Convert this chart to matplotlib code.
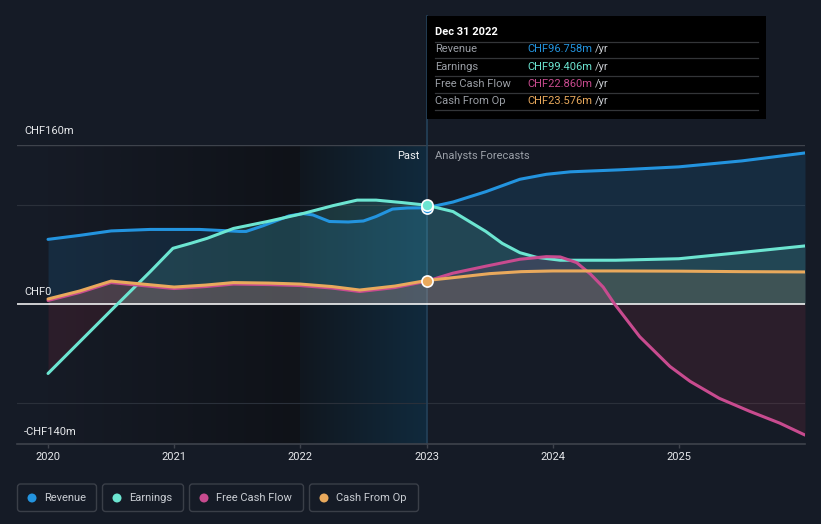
import numpy as np
import matplotlib
matplotlib.use('Agg')
import matplotlib.pyplot as plt
from matplotlib.patches import FancyBboxPatch, Rectangle, Circle
from matplotlib.lines import Line2D

plt.rcParams['font.family'] = ['Roboto', 'DejaVu Sans']

# ---------------- data (CHF m) ----------------
rev_x = [2020.0, 2020.25, 2020.5, 2020.81, 2021.2, 2021.52, 2021.57, 2021.7, 2021.91, 2022.02,
         2022.1, 2022.23, 2022.38, 2022.5, 2022.6, 2022.73, 2022.85, 2023.0,
         2023.21, 2023.47, 2023.74, 2023.95, 2024.14, 2024.53, 2025.0, 2025.5, 2026.0]
rev_y = [65, 69, 73.5, 75, 75, 73, 73, 78.5, 88.6, 91,
         89.6, 83, 82.5, 83.5, 88, 95.5, 96.6, 96.758,
         102.6, 113, 125.5, 130.5, 133, 135, 138, 144, 152]

earn_x = [2020.0, 2020.5, 2020.81, 2020.99, 2021.13, 2021.26, 2021.47, 2021.74, 2022.02, 2022.26,
          2022.45, 2022.6, 2022.81, 2023.0, 2023.21, 2023.34, 2023.47, 2023.6, 2023.74, 2023.87,
          2024.06, 2024.5, 2025.0, 2025.48, 2026.0]
earn_y = [-70, -6.5, 32.5, 56, 61, 66, 76, 83, 91, 99,
          104.5, 104.5, 102, 99.406, 93, 83, 73, 61, 51.6, 47,
          44, 44, 45.5, 51.6, 58.4]

cfo_x = [2020.0, 2020.25, 2020.5, 2020.75, 2021.0, 2021.25, 2021.47, 2021.75, 2022.0, 2022.25,
         2022.47, 2022.75, 2023.0, 2023.25, 2023.5, 2023.75, 2024.0, 2024.5, 2025.0, 2025.5, 2026.0]
cfo_y = [5, 13, 23, 20, 17, 19, 21.5, 21, 20, 17.5,
         14, 18, 23.576, 27, 30.5, 32.5, 33.2, 33.2, 33, 32.5, 32.2]

fcf_x = [2020.0, 2020.25, 2020.5, 2020.75, 2021.0, 2021.25, 2021.47, 2021.75, 2022.0, 2022.25,
         2022.47, 2022.75, 2023.0, 2023.21, 2023.47, 2023.74, 2023.95, 2024.06, 2024.19, 2024.3,
         2024.4, 2024.49, 2024.69, 2024.93, 2025.09, 2025.32, 2025.56, 2025.8, 2026.0]
fcf_y = [3.5, 11.5, 21.5, 18.5, 15.5, 17.5, 20, 19.5, 18.5, 16,
         12.5, 16.5, 22.860, 31, 38, 45, 47.6, 47.3, 41.6, 30,
         17, 0, -33, -63, -78, -95, -108, -120, -132]

years = [2020, 2021, 2022, 2023, 2024, 2025]
year_labels = ['2020', '2021', '2022', '2023', '2024', '2025']
ytick_labels = ['CHF160m', 'CHF0', '-CHF140m']

series_names = ['Revenue', 'Earnings', 'Free Cash Flow', 'Cash From Op']
series_values = ['CHF96.758m', 'CHF99.406m', 'CHF22.860m', 'CHF23.576m']
tooltip_date = 'Dec 31 2022'

# ---------------- style ----------------
W, H = 821, 524
BG = '#151b26'
C_REV = '#2394df'
C_EARN = '#6ce5d1'
C_FCF = '#c84b8f'
C_CFO = '#e9a95c'
C_NEG = '#c2344e'
colors = [C_REV, C_EARN, C_FCF, C_CFO]

fig = plt.figure(figsize=(W / 100, H / 100), dpi=100, facecolor=BG)


def fx(px):
    return px / W


def fy(py):
    return 1 - py / H


def P(px, py):
    return (px / 100.0, (H - py) / 100.0)


ax = fig.add_axes([fx(17), fy(444), fx(805) - fx(17), fy(145) - fy(444)])
ax.set_facecolor(BG)
XMIN, XMAX = 2019.754, 2026.0
YMIN, YMAX = -141, 160

# background gradients for past region
n = 256
g1 = np.zeros((2, n, 4))
c_a = np.array([22, 27, 38]) / 255.0
c_b = np.array([15, 18, 24]) / 255.0
for i in range(n):
    t = i / (n - 1)
    g1[:, i, :3] = c_a * (1 - t) + c_b * t
g1[:, :, 3] = 1
ax.imshow(g1, extent=[2020, 2022, YMIN, YMAX], aspect='auto', zorder=0.2, interpolation='bilinear')
g2 = np.zeros((2, n, 4))
c_c = np.array([16, 23, 31]) / 255.0
c_d = np.array([17, 42, 61]) / 255.0
for i in range(n):
    t = i / (n - 1)
    g2[:, i, :3] = c_c * (1 - t) + c_d * t
g2[:, :, 3] = 1
ax.imshow(g2, extent=[2022, 2023, YMIN, YMAX], aspect='auto', zorder=0.2, interpolation='bilinear')

# grid lines
ax.axhline(160, color='#3e434c', lw=1, zorder=1)
ax.axhline(100, color='#2a303a', lw=0.8, zorder=1)
ax.axhline(-100, color='#2a303a', lw=0.8, zorder=1)

# hover line
ax.axvline(2023, ymin=0, ymax=(444 - 16) / (444 - 145), color='#24425a', lw=1.2,
           clip_on=False, zorder=1.5)

# fills
data = [(rev_x, rev_y, C_REV), (earn_x, earn_y, C_EARN), (fcf_x, fcf_y, C_FCF), (cfo_x, cfo_y, C_CFO)]
for xs, ys, c in data:
    xs = np.array(xs)
    ys = np.array(ys, dtype=float)
    ax.fill_between(xs, ys, 0, where=ys >= 0, interpolate=True, color=c, alpha=0.14, lw=0, zorder=2)
    ax.fill_between(xs, ys, 0, where=ys <= 0, interpolate=True, color=C_NEG, alpha=0.13, lw=0, zorder=2)

ax.axhline(0, color='#ffffff', lw=1.1, zorder=2.5)

# lines
kw = dict(lw=2.2, solid_capstyle='round', solid_joinstyle='round')
ax.plot(rev_x, rev_y, color=C_REV, zorder=3, **kw)
ax.plot(earn_x, earn_y, color=C_EARN, zorder=4, **kw)
ax.plot(fcf_x, fcf_y, color=C_FCF, zorder=5, **kw)
ax.plot(cfo_x, cfo_y, color=C_CFO, zorder=6, **kw)

# markers at 2023
i_r = rev_x.index(2023.0)
i_e = earn_x.index(2023.0)
i_c = cfo_x.index(2023.0)
ax.plot(2023.0, rev_y[i_r], 'o', ms=8, mfc=C_REV, mec='white', mew=1.2, zorder=7)
ax.plot(2023.0, earn_y[i_e], 'o', ms=8, mfc=C_EARN, mec='white', mew=1.2, zorder=7.5)
ax.plot(2023.0, cfo_y[i_c], 'o', ms=8, mfc=C_CFO, mec='white', mew=1.2, zorder=7.5)

ax.set_xlim(XMIN, XMAX)
ax.set_ylim(YMIN, YMAX)

for s in ['top', 'left', 'right']:
    ax.spines[s].set_visible(False)
ax.spines['bottom'].set_color('#3e434c')
ax.spines['bottom'].set_linewidth(1.2)
ax.set_yticks([])
ax.set_xticks(years)
ax.set_xticklabels(year_labels)
ax.tick_params(axis='x', colors='#3e434c', length=3, width=1, labelcolor='#e6e8eb',
               labelsize=8, pad=2.5)

# y labels
ylab_pos = [131, 292, 432]
for lbl, py in zip(ytick_labels, ylab_pos):
    fig.text(fx(24), fy(py), lbl, color='#e6e8eb', fontsize=8, ha='left', va='center')

# Past / Forecast labels
fig.text(fx(419), fy(156), 'Past', color='#f0f2f4', fontsize=8, ha='right', va='center')
fig.text(fx(435), fy(156), 'Analysts Forecasts', color='#9ba0a8', fontsize=8, ha='left', va='center')

# tooltip
tb = Rectangle(P(427, 119), (766 - 427) / 100.0, (119 - 16) / 100.0, transform=fig.dpi_scale_trans,
               facecolor='#000000', edgecolor='none', zorder=10)
fig.patches.append(tb)
fig.text(fx(435), fy(32), tooltip_date, color='#ffffff', fontsize=8, fontweight='bold',
         ha='left', va='center', zorder=11)
for sy in [42, 58, 76, 93, 110]:
    fig.lines.append(Line2D([435 / 100, 758 / 100], [(H - sy) / 100] * 2, transform=fig.dpi_scale_trans,
                            color='#333538', lw=0.9, zorder=11))
row_y = [49, 67, 84, 101]
fig.canvas.draw()
renderer = fig.canvas.get_renderer()
for name, val, c, ry in zip(series_names, series_values, colors, row_y):
    fig.text(fx(435), fy(ry), name, color='#9a9ea5', fontsize=8, ha='left', va='center', zorder=11)
    t = fig.text(fx(527), fy(ry), val, color=c, fontsize=8, ha='left', va='center', zorder=11)
    bb = t.get_window_extent(renderer)
    fig.text((bb.x1 + 3) / W, fy(ry), '/yr', color='#c9ccd1', fontsize=8, ha='left', va='center', zorder=11)

# legend
boxes = [(17, 97), (102, 184), (189, 304), (309, 419)]
for (x0, x1), name, c in zip(boxes, series_names, colors):
    bp = FancyBboxPatch(P(x0 + 0.5, 511.5), (x1 - x0 - 1) / 100.0, (511.5 - 484) / 100.0,
                        boxstyle='round,pad=0,rounding_size=0.03', transform=fig.dpi_scale_trans,
                        facecolor='none', edgecolor='#3a3f48', lw=1.0)
    fig.patches.append(bp)
    cp = Circle(P(x0 + 15, 498), 0.045, transform=fig.dpi_scale_trans, facecolor=c, edgecolor='none')
    fig.patches.append(cp)
    fig.text(fx(x0 + 27), fy(498), name, color='#c9cdd3', fontsize=8, ha='left', va='center')

fig.savefig('out.png', dpi=100, facecolor=BG)
